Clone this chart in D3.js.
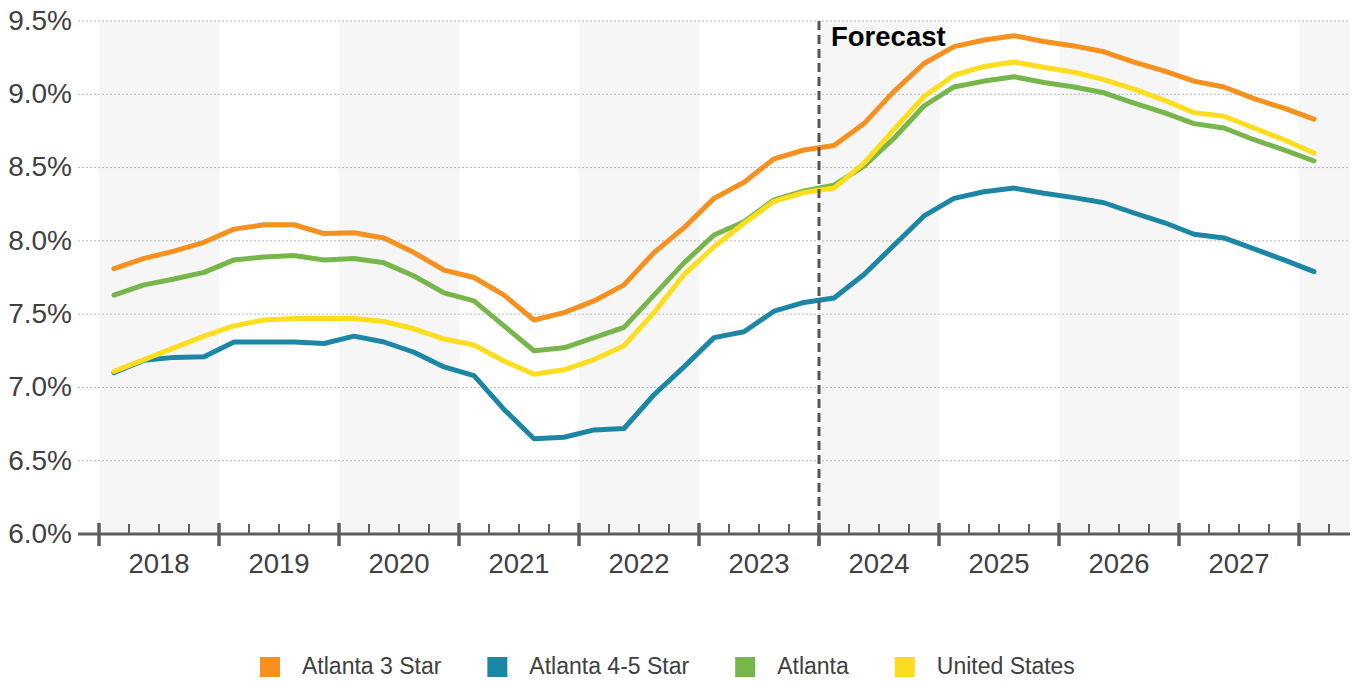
<!DOCTYPE html>
<meta charset="utf-8">
<script src="https://d3js.org/d3.v7.min.js"></script>
<style>
    body {
        margin: 0;
        padding: 0;
        background: #fff;
    }
    svg text {
        font-family: 'Liberation Sans', Arial, sans-serif;
    }
</style>
<body>
    <svg width="1360" height="681"></svg>
    <script>

        // years shown on the axis and the quarters of data (2018 Q1 .. 2028 Q1)
        var years = [2018, 2019, 2020, 2021, 2022, 2023, 2024, 2025, 2026, 2027];
        var quarters = [];
        years.concat([2028]).forEach(function (y) {
            [1, 2, 3, 4].forEach(function (q) {
                if (y < 2028 || q == 1) quarters.push(y + (q - 0.5) / 4);
            });
        });

        var yTicks = [6.0, 6.5, 7.0, 7.5, 8.0, 8.5, 9.0, 9.5];
        var forecastStart = 2024;

        // series values (%), one per quarter
        var atl3Star = [7.81, 7.88, 7.93, 7.99, 8.08, 8.11, 8.11, 8.05, 8.055, 8.02, 7.92, 7.80,
            7.75, 7.63, 7.46, 7.51, 7.59, 7.70, 7.92, 8.09, 8.29, 8.40, 8.56, 8.62,
            8.65, 8.80, 9.02, 9.21, 9.325, 9.37, 9.40, 9.36, 9.33, 9.29, 9.22, 9.16,
            9.09, 9.05, 8.97, 8.905, 8.83];
        var atl45Star = [7.10, 7.185, 7.205, 7.21, 7.31, 7.31, 7.31, 7.30, 7.35, 7.31, 7.24, 7.14,
            7.08, 6.85, 6.65, 6.66, 6.71, 6.72, 6.95, 7.14, 7.34, 7.38, 7.52, 7.58,
            7.61, 7.77, 7.97, 8.17, 8.29, 8.335, 8.36, 8.325, 8.295, 8.26, 8.19, 8.125,
            8.045, 8.02, 7.945, 7.87, 7.79];
        var atlanta = [7.63, 7.70, 7.74, 7.785, 7.87, 7.89, 7.90, 7.87, 7.88, 7.85, 7.76, 7.645,
            7.59, 7.42, 7.25, 7.27, 7.34, 7.41, 7.63, 7.85, 8.04, 8.13, 8.28, 8.34,
            8.38, 8.51, 8.70, 8.92, 9.05, 9.09, 9.12, 9.08, 9.05, 9.01, 8.94, 8.875,
            8.80, 8.77, 8.69, 8.62, 8.545];
        var unitedStates = [7.11, 7.19, 7.27, 7.35, 7.42, 7.46, 7.47, 7.47, 7.47, 7.45, 7.40, 7.33,
            7.29, 7.18, 7.09, 7.12, 7.19, 7.285, 7.51, 7.77, 7.96, 8.12, 8.27, 8.33,
            8.36, 8.53, 8.76, 8.985, 9.13, 9.19, 9.22, 9.185, 9.15, 9.10, 9.035, 8.96,
            8.875, 8.85, 8.77, 8.69, 8.60];

        var seriesNames = ["Atlanta 3 Star", "Atlanta 4-5 Star", "Atlanta", "United States"];
        var seriesColors = ["#F7901E", "#1C86A6", "#77B64B", "#FDDD1D"];
        var seriesValues = [atl3Star, atl45Star, atlanta, unitedStates];

        var svg = d3.select("svg");
        // plot box (note: "top" is reserved on window, so use other names)
        var plotLeft = 78, plotRight = 1350, plotTop = 21, plotBottom = 534;

        var x = d3.scaleLinear().domain([2018, 2028]).range([99, 1299]);
        var y = d3.scaleLinear().domain([6, 9.5]).range([plotBottom, plotTop]);

        // alternating year bands
        var bandStarts = years.concat([2028]);
        svg.append("g")
            .selectAll("rect")
            .data(bandStarts)
            .enter()
            .append("rect")
            .attr("x", function (d) { return x(d); })
            .attr("y", plotTop)
            .attr("width", function (d) { return Math.min(x(d + 1), plotRight) - x(d); })
            .attr("height", plotBottom - plotTop)
            .attr("fill", function (d, i) { return i % 2 == 0 ? "#f6f6f6" : "#fff"; });

        // dotted grid lines
        svg.append("g")
            .selectAll("line")
            .data(yTicks.slice(1))
            .enter()
            .append("line")
            .attr("x1", plotLeft)
            .attr("x2", plotRight)
            .attr("y1", function (d) { return y(d); })
            .attr("y2", function (d) { return y(d); })
            .attr("stroke", "#b8b8b8")
            .attr("stroke-width", 1)
            .attr("stroke-dasharray", "2,2");

        // y labels
        svg.append("g")
            .attr("transform", "translate(72,0)")
            .call(d3.axisLeft(y).tickValues(yTicks).tickSize(0).tickPadding(0)
                .tickFormat(function (d) { return d3.format(".1f")(d) + "%"; }))
            .call(function (g) {
                g.select(".domain").remove();
                g.selectAll("text")
                    .attr("font-size", 28)
                    .attr("fill", "#404040")
                    .attr("dy", "0.3em")
                    .style("font-family", "'Liberation Sans', Arial, sans-serif");
            });

        // lines (yellow drawn last, on top)
        var line = d3.line()
            .x(function (d, i) { return x(quarters[i]); })
            .y(function (d) { return y(d); });

        svg.append("g")
            .selectAll("path")
            .data(d3.range(seriesValues.length))
            .enter()
            .append("path")
            .attr("d", function (k) { return line(seriesValues[k]); })
            .attr("fill", "none")
            .attr("stroke", function (k) { return seriesColors[k]; })
            .attr("stroke-width", 5)
            .attr("stroke-linejoin", "round")
            .attr("stroke-linecap", "round");

        // forecast marker
        svg.append("line")
            .attr("x1", x(forecastStart))
            .attr("x2", x(forecastStart))
            .attr("y1", plotTop)
            .attr("y2", plotBottom + 12)
            .attr("stroke", "#555")
            .attr("stroke-width", 3)
            .attr("stroke-dasharray", "9,5");

        svg.append("text")
            .attr("x", x(forecastStart) + 12)
            .attr("y", 46)
            .attr("font-size", 27.5)
            .attr("font-weight", "bold")
            .attr("fill", "#000")
            .text("Forecast");

        // x axis: line, quarter ticks, year ticks
        svg.append("line")
            .attr("x1", plotLeft)
            .attr("x2", plotRight)
            .attr("y1", plotBottom)
            .attr("y2", plotBottom)
            .attr("stroke", "#5e5e5e")
            .attr("stroke-width", 3);

        var minorTicks = [];
        bandStarts.forEach(function (yr) {
            [0.25, 0.5, 0.75].forEach(function (f) {
                if (x(yr + f) < plotRight) minorTicks.push(yr + f);
            });
        });

        svg.append("g")
            .selectAll("line")
            .data(minorTicks)
            .enter()
            .append("line")
            .attr("x1", function (d) { return x(d); })
            .attr("x2", function (d) { return x(d); })
            .attr("y1", plotBottom - 10)
            .attr("y2", plotBottom)
            .attr("stroke", "#5e5e5e")
            .attr("stroke-width", 2);

        svg.append("g")
            .selectAll("line")
            .data(bandStarts)
            .enter()
            .append("line")
            .attr("x1", function (d) { return x(d); })
            .attr("x2", function (d) { return x(d); })
            .attr("y1", plotBottom - 11)
            .attr("y2", plotBottom + 12)
            .attr("stroke", "#5e5e5e")
            .attr("stroke-width", 3.5);

        svg.append("g")
            .selectAll("text")
            .data(years)
            .enter()
            .append("text")
            .attr("x", function (d) { return x(d + 0.5); })
            .attr("y", 573)
            .attr("text-anchor", "middle")
            .attr("font-size", 27.5)
            .attr("fill", "#404040")
            .text(function (d) { return d; });

        // legend
        var legend = svg.append("g").attr("transform", "translate(260,657)");
        var lx = 0;
        seriesNames.forEach(function (name, i) {
            var item = legend.append("g").attr("transform", "translate(" + lx + ",0)");
            item.append("rect")
                .attr("width", 20)
                .attr("height", 20)
                .attr("fill", seriesColors[i]);
            var t = item.append("text")
                .attr("x", 42)
                .attr("y", 17)
                .attr("font-size", 23)
                .attr("fill", "#404040")
                .text(name);
            lx += 42 + t.node().getComputedTextLength() + 46;
        });
    </script>
</body>
